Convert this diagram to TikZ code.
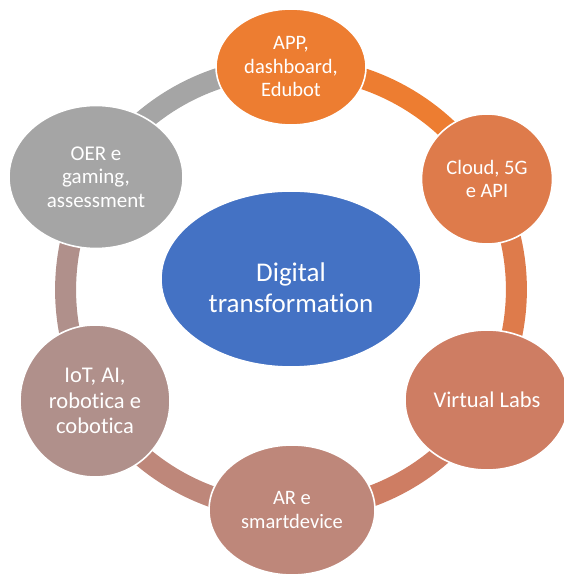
\documentclass[tikz,border=0pt]{standalone}
\usepackage{fontspec}
\setmainfont{Carlito}[Ligatures=NoCommon]
\usetikzlibrary{shapes.geometric,backgrounds}
\definecolor{cApp}{HTML}{ED7D31}
\definecolor{cCloud}{HTML}{DE7B4B}
\definecolor{cLabs}{HTML}{CE7D63}
\definecolor{cAR}{HTML}{BE877A}
\definecolor{cIoT}{HTML}{B0908B}
\definecolor{cOER}{HTML}{A5A5A5}
\definecolor{cCore}{HTML}{4472C4}
\begin{document}
\begin{tikzpicture}[x=1pt,y=1pt,
  bubble/.style={ellipse, draw=white, line width=1.6pt, inner sep=0pt,
    text=white, align=center, font=\fontsize{20.5}{23.5}\selectfont},
  ringarc/.style={line width=21pt, bend left=30, looseness=0.91}]
\useasboundingbox (0,0) rectangle (563,578);

% central topic; its caption sits a little below the middle
\node[bubble, fill=cCore, minimum width=260pt, minimum height=176pt,
  label={[text=white, align=center, font=\fontsize{27}{31}\selectfont,
          yshift=-9pt]center:Digital\\transformation}] (core) at (291,299) {};

% surrounding topics, clockwise from the top
\node[bubble, fill=cApp, minimum width=150pt, minimum height=116pt]
  (app) at (291,511) {APP,\\dashboard,\\Edubot};
\node[bubble, fill=cCloud, minimum width=131pt, minimum height=130pt]
  (cloud) at (487,399) {Cloud, 5G\\e API};
\node[bubble, fill=cLabs, minimum width=164pt, minimum height=140pt,
  font=\fontsize{22.5}{26}\selectfont]
  (labs) at (487,178) {Virtual Labs};
\node[bubble, fill=cAR, minimum width=166pt, minimum height=130pt]
  (ar) at (292,68) {AR e\\smartdevice};
\node[bubble, fill=cIoT, minimum width=150pt, minimum height=152pt,
  font=\fontsize{22.5}{25.5}\selectfont]
  (iot) at (95,177) {IoT, AI,\\robotica e\\cobotica};
\node[bubble, fill=cOER, minimum width=174pt, minimum height=143pt,
  font=\fontsize{21}{23.5}\selectfont]
  (oer) at (96,401) {OER e\\gaming,\\assessment};

% ring segments behind the topics, each in the colour of the topic it leaves
\begin{pgfonlayer}{background}
  \draw[ringarc, cApp]   (app.center)   to (cloud.center);
  \draw[ringarc, cCloud] (cloud.center) to (labs.center);
  \draw[ringarc, cLabs]  (labs.center)  to (ar.center);
  \draw[ringarc, cAR]    (ar.center)    to (iot.center);
  \draw[ringarc, cIoT]   (iot.center)   to (oer.center);
  \draw[ringarc, cOER]   (oer.center)   to (app.center);
\end{pgfonlayer}
\end{tikzpicture}
\end{document}
